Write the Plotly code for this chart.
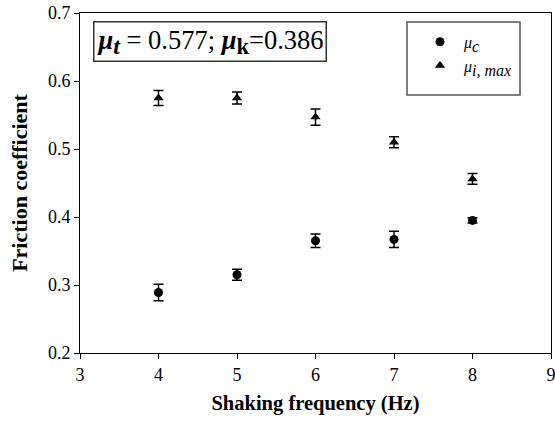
import plotly.graph_objects as go

freq = [4, 5, 6, 7, 8]
mu_c = [0.289, 0.315, 0.365, 0.367, 0.395]
mu_c_err = [0.012, 0.008, 0.010, 0.012, 0.004]
mu_i = [0.575, 0.575, 0.547, 0.510, 0.456]
mu_i_err = [0.011, 0.009, 0.012, 0.008, 0.008]

FONT = "Liberation Serif"
LEG = 16
ANN = 26.5


def sub(t, scale="100%"):
    return "<span style='baseline-shift:-22%%;font-size:%s'>%s</span>" % (scale, t)


fig = go.Figure()
fig.add_trace(go.Scatter(
    x=freq, y=mu_c, mode="markers", name="<i>μ" + sub("c") + "</i>",
    marker=dict(symbol="circle", size=9, color="black"),
    error_y=dict(type="data", array=mu_c_err, width=5, thickness=1.5, color="black"),
))
fig.add_trace(go.Scatter(
    x=freq, y=mu_i, mode="markers", name="<i>μ" + sub("i, max") + "</i>",
    marker=dict(symbol="triangle-up", size=9, color="black"),
    error_y=dict(type="data", array=mu_i_err, width=5, thickness=1.5, color="black"),
))

fig.update_layout(
    width=555, height=421,
    margin=dict(l=80, r=4, t=13, b=68, autoexpand=False),
    paper_bgcolor="white", plot_bgcolor="white",
    font=dict(family=FONT, size=18, color="black"),
    showlegend=True,
    legend=dict(x=(416 - 80) / 471, y=0.965, xanchor="left", yanchor="top",
                bgcolor="rgba(0,0,0,0)", borderwidth=0,
                font=dict(family=FONT, size=LEG), itemwidth=38),
    xaxis=dict(range=[3, 9], dtick=1, tick0=3, ticks="outside", ticklen=5,
               tickwidth=1, tickcolor="black", showline=True, linecolor="black",
               linewidth=1, mirror=True, showgrid=False, zeroline=False,
               ticklabeloverflow="allow", automargin=False,
               tickfont=dict(family=FONT, size=18),
               title=dict(text="<b>Shaking frequency (Hz)</b>",
                          font=dict(family=FONT, size=20.5), standoff=12)),
    yaxis=dict(range=[0.2, 0.7], dtick=0.1, tick0=0.2, tickformat=".1f",
               ticks="outside", ticklen=5, tickwidth=1, tickcolor="black",
               showline=True, linecolor="black", linewidth=1, mirror=True,
               showgrid=False, zeroline=False, automargin=False,
               tickfont=dict(family=FONT, size=18),
               title=dict(text="<b>Friction coefficient</b>",
                          font=dict(family=FONT, size=22), standoff=14)),
)

# legend frame
fig.add_shape(type="rect", xref="paper", yref="paper",
              x0=(407 - 80) / 471, x1=(520 - 80) / 471,
              y0=(352.5 - 95) / 339.5, y1=(352.5 - 22) / 339.5,
              line=dict(color="#555555", width=1.5))

fig.add_annotation(
    xref="paper", yref="paper", x=(92.5 - 80) / 471, y=(352.5 - 21) / 339.5,
    xanchor="left", yanchor="top", showarrow=False,
    text="<b><i>μ" + sub("t", "90%") + "</i></b> = 0.577; <b><i>μ</i>"
         + sub("k", "85%") + "</b>=0.386",
    font=dict(family=FONT, size=ANN, color="black"),
    bordercolor="#333333", borderwidth=1.5, borderpad=2, bgcolor="white",
)

fig.write_html("out.html", config={"displayModeBar": False},
               post_script="document.body.style.margin='0';")
